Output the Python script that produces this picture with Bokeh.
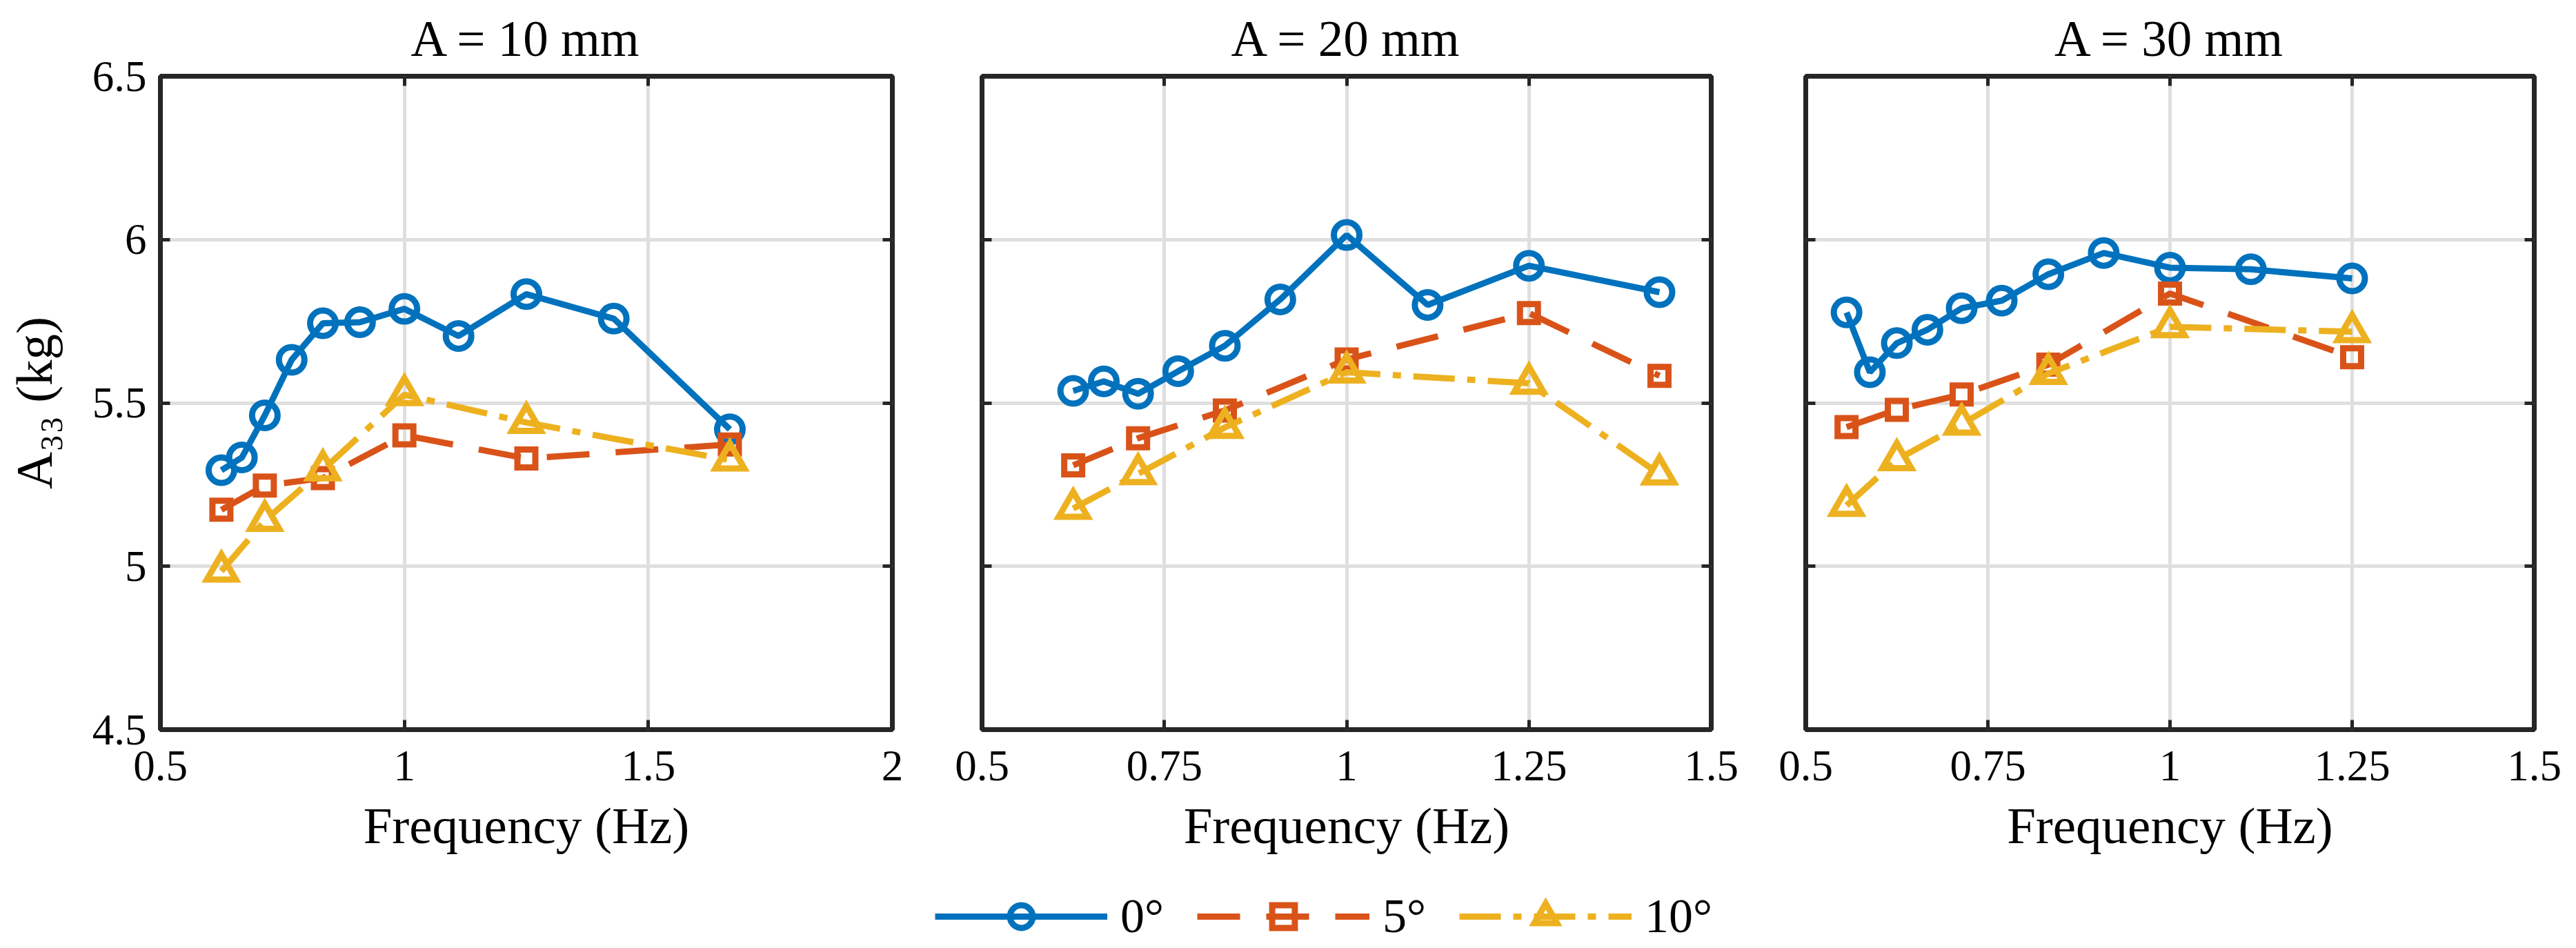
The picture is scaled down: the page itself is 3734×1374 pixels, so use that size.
import numpy as np
from bokeh.plotting import figure
from bokeh.models import (Range1d, FixedTicker, CustomJSTickFormatter, LinearAxis, Grid,
                          Legend, LegendItem, Spacer)
from bokeh.layouts import row, column
from bokeh.embed import file_html
from bokeh.resources import INLINE

# ---------------- data ----------------
titles = ["A = 10 mm", "A = 20 mm", "A = 30 mm"]
series_labels = ["0°", "5°", "10°"]
x_label = "Frequency (Hz)"
y_label = "A\u2083\u2083 (kg)"
x_ticks_10 = [0.5, 1, 1.5, 2]
x_ticks_2030 = [0.5, 0.75, 1, 1.25, 1.5]
y_ticks = [4.5, 5, 5.5, 6, 6.5]

# A = 10 mm
freq_0_10 = [0.625, 0.667, 0.714, 0.769, 0.833, 0.909, 1.0, 1.111, 1.25, 1.429, 1.667]
a33_0_10 = [5.294, 5.333, 5.462, 5.632, 5.744, 5.747, 5.788, 5.705, 5.833, 5.758, 5.419]
freq_5_10 = [0.625, 0.714, 0.833, 1.0, 1.25, 1.667]
a33_5_10 = [5.173, 5.247, 5.270, 5.401, 5.330, 5.373]
freq_10_10 = [0.625, 0.714, 0.833, 1.0, 1.25, 1.667]
a33_10_10 = [4.985, 5.140, 5.295, 5.525, 5.440, 5.325]

# A = 20 mm
freq_0_20 = [0.625, 0.667, 0.714, 0.769, 0.833, 0.909, 1.0, 1.111, 1.25, 1.429]
a33_0_20 = [5.537, 5.566, 5.528, 5.597, 5.675, 5.817, 6.014, 5.800, 5.920, 5.839]
freq_5_20 = [0.625, 0.714, 0.833, 1.0, 1.25, 1.429]
a33_5_20 = [5.309, 5.392, 5.477, 5.633, 5.775, 5.583]
freq_10_20 = [0.625, 0.714, 0.833, 1.0, 1.25, 1.429]
a33_10_20 = [5.177, 5.283, 5.425, 5.594, 5.560, 5.282]

# A = 30 mm
freq_0_30 = [0.556, 0.588, 0.625, 0.667, 0.714, 0.769, 0.833, 0.909, 1.0, 1.111, 1.25]
a33_0_30 = [5.777, 5.594, 5.683, 5.724, 5.790, 5.813, 5.894, 5.959, 5.914, 5.909, 5.881]
freq_5_30 = [0.556, 0.625, 0.714, 0.833, 1.0, 1.25]
a33_5_30 = [5.426, 5.479, 5.526, 5.617, 5.835, 5.640]
freq_10_30 = [0.556, 0.625, 0.714, 0.833, 1.0, 1.25]
a33_10_30 = [5.186, 5.326, 5.435, 5.590, 5.733, 5.718]

# ---------------- style ----------------
FONT = "Liberation Serif"
INK = "#262626"
GRID = "#DFDFDF"
COLORS = ["#0072BD", "#D95319", "#EDB120"]
DASHES = ["solid", "62 38", "60 18 12 18"]
MARKERS = ["circle", "square", "triangle"]
SIZES = [37, 26, 42]
LW = 9

FRAME_H = 947
TOP = 108
BOTTOM = 230


def make_axis(ticks, show, fs="63px", standoff=22):
    code = "return tick.toString()" if show else "return ''"
    return LinearAxis(
        ticker=FixedTicker(ticks=ticks),
        formatter=CustomJSTickFormatter(code=code),
        axis_line_color=None,
        major_tick_line_color=INK, major_tick_line_width=5,
        major_tick_in=14, major_tick_out=0,
        minor_tick_line_color=None,
        major_label_text_font=FONT,
        major_label_text_font_size=fs if show else "1px",
        major_label_text_color="black",
        major_label_standoff=standoff if show else 0,
    )


def style_axis_label(ax, text, standoff):
    ax.axis_label = text
    ax.axis_label_text_font = FONT
    ax.axis_label_text_font_size = "75px"
    ax.axis_label_text_font_style = "normal"
    ax.axis_label_text_color = "black"
    ax.axis_label_standoff = standoff


def make_panel(title, xr, xticks, frame_w, bl, br, show_y):
    p = figure(frame_width=frame_w, frame_height=FRAME_H,
               x_range=Range1d(*xr), y_range=Range1d(4.5, 6.5),
               x_axis_type=None, y_axis_type=None,
               output_backend="svg", toolbar_location=None, title=title,
               min_border_left=bl, min_border_right=br,
               min_border_top=TOP, min_border_bottom=BOTTOM)
    p.title.text_font = FONT
    p.title.text_font_size = "73px"
    p.title.text_font_style = "normal"
    p.title.text_color = "black"
    p.title.align = "center"
    p.title.standoff = 27

    xb = make_axis(xticks, True, standoff=31)
    style_axis_label(xb, x_label, 21)
    p.add_layout(xb, "below")
    p.add_layout(make_axis(xticks, False), "above")
    yleft = make_axis(y_ticks, show_y, standoff=20)
    if show_y:
        style_axis_label(yleft, y_label, 40)
    p.add_layout(yleft, "left")
    p.add_layout(make_axis(y_ticks, False), "right")

    p.add_layout(Grid(dimension=0, ticker=FixedTicker(ticks=xticks),
                      grid_line_color=GRID, grid_line_width=5), "center")
    p.add_layout(Grid(dimension=1, ticker=FixedTicker(ticks=y_ticks),
                      grid_line_color=GRID, grid_line_width=5), "center")

    p.outline_line_color = INK
    p.outline_line_width = 7
    p.background_fill_color = "white"
    p.border_fill_color = "white"
    return p


def add_series(p, xs, ys, k):
    lr = p.line(xs, ys, line_color=COLORS[k], line_width=LW, line_dash=DASHES[k])
    sr = p.scatter(xs, ys, marker=MARKERS[k], size=SIZES[k], fill_color=None,
                   line_color=COLORS[k], line_width=LW, line_join="miter")
    return lr, sr


p1 = make_panel(titles[0], (0.5, 2.0), x_ticks_10, 1061, 232, 60, True)
p2 = make_panel(titles[1], (0.5, 1.5), x_ticks_2030, 1057, 70, 68, False)
p3 = make_panel(titles[2], (0.5, 1.5), x_ticks_2030, 1056, 69, 45, False)

panel_series = [
    [(freq_0_10, a33_0_10), (freq_5_10, a33_5_10), (freq_10_10, a33_10_10)],
    [(freq_0_20, a33_0_20), (freq_5_20, a33_5_20), (freq_10_20, a33_10_20)],
    [(freq_0_30, a33_0_30), (freq_5_30, a33_5_30), (freq_10_30, a33_10_30)],
]
for p, series in zip([p1, p2, p3], panel_series):
    for k, (xs, ys) in enumerate(series):
        add_series(p, xs, ys, k)

# ---------------- legend: its own strip under the middle panel ----------------
# proxy renderers (same styles, middle-panel data lying outside this strip's ranges, so unseen)
LEG_LEFT = 1355
lf = figure(width=1160, height=86, min_border=0, x_axis_type=None, y_axis_type=None,
            x_range=Range1d(0, 0.1), y_range=Range1d(0, 0.1),
            output_backend="svg", toolbar_location=None)
lf.outline_line_color = None
items = []
for k, (xs, ys) in enumerate(panel_series[1]):
    lr, sr = add_series(lf, xs, ys, k)
    items.append(LegendItem(label=series_labels[k], renderers=[lr, sr]))
legend = Legend(items=items, orientation="horizontal", location="top_left",
                label_text_font=FONT, label_text_font_size="70px", label_text_color="black",
                glyph_width=250, glyph_height=82, label_standoff=19, spacing=48,
                padding=0, margin=0, border_line_color=None, background_fill_alpha=0)
lf.add_layout(legend, "center")

layout = column(row(p1, p2, p3), row(Spacer(width=LEG_LEFT, height=86), lf))
open("out.html", "w").write(file_html(layout, INLINE, title="A33 vs frequency"))
